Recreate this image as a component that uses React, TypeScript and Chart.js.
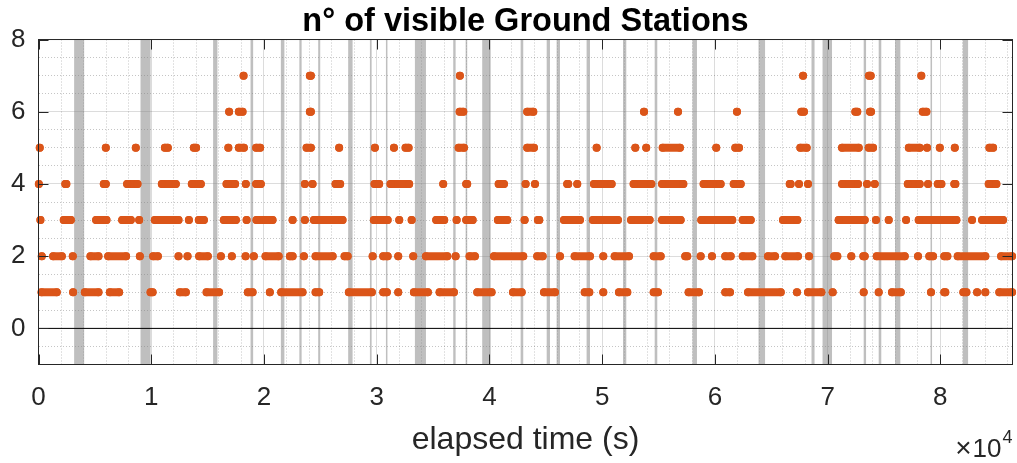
import React, { useEffect, useRef } from 'react';
import { Chart, registerables } from 'chart.js';

Chart.register(...registerables);

// ---------- text ----------
const TITLE = 'n° of visible Ground Stations';
const X_LABEL = 'elapsed time (s)';
const X_EXP_TIMES = '×';
const X_EXP_BASE = '10';
const X_EXP_POW = '4';

// ---------- axes ----------
const X_MIN = 0;
const X_MAX = 86400;
const Y_MIN = -1;
const Y_MAX = 8;
const X_MAJOR = [0, 10000, 20000, 30000, 40000, 50000, 60000, 70000, 80000];
const X_TICK_LABELS = ['0', '1', '2', '3', '4', '5', '6', '7', '8'];
const Y_MAJOR = [0, 2, 4, 6, 8];
const Y_TICK_LABELS = ['0', '2', '4', '6', '8'];
const X_MINOR_STEP = 2000;
const Y_MINOR_STEP = 0.5;

// ---------- grey vertical bands [start, end] (s) ----------
const bands: [number, number][] = [
  [3160, 4050], [9050, 9940], [15490, 15870], [18810, 19040], [21500, 21810],
  [23140, 23340], [24810, 24990], [27470, 27860], [29400, 29550], [30820, 30950],
  [33390, 34370], [36790, 37000], [37890, 38030], [39360, 40110], [42770, 43000],
  [45080, 45370], [45960, 46260], [48620, 48920], [51850, 52140], [54660, 54890],
  [58010, 58410], [63870, 64450], [68570, 68840], [69550, 70390], [73200, 73410],
  [74530, 74760], [75980, 76450], [79130, 79260], [81990, 82460],
];

// ---------- visibility runs per number of stations (single time or [start, end]) ----------
type Run = number | [number, number];

const level7: Run[] = [18190, [24070, 24160], 37380, 67820, [73670, 73820], 78310];

const level6: Run[] = [
  16910, [17770, 18100], [24070, 24160], [37360, 37680], [43350, 43890], 53710, 56730,
  61960, [67670, 67900], [72460, 72630], [73760, 73850], [78440, 78760],
];

const level5: Run[] = [
  110, 5970, 8630, [11210, 11470], [13780, 13980], 16840, [17770, 18220], [19310, 19660],
  [23780, 24160], 26670, 29840, 31530, [32560, 32830], [37270, 37740], [43350, 43950],
  49510, 52940, 53910, [55370, 56900], 60120, [61810, 62140], [67580, 68140],
  [71280, 72760], [73650, 74030], [77200, 78170], 78820, 79950, 81280, [84350, 84680],
];

const level4: Run[] = [
  30, [2380, 2470], [5790, 5970], [7860, 8780], [10940, 12180], [13600, 14400],
  [16680, 17440], 18390, [19310, 19720], 23630, 24310, [26350, 26760], [29810, 30220],
  [31230, 32880], 35900, [37940, 38030], [40820, 41290], 43210, 44040, [46900, 46990],
  47790, [49270, 50840], [52790, 54360], [55310, 57200], [59000, 60510], [61670, 62290],
  [66640, 66720], 67460, 68260, [71280, 72700], 73500, 74180, [77110, 78170], 78910,
  [79770, 80090], [81240, 81330], [84290, 84970],
];

const level3: Run[] = [
  170, [2240, 2870], [5110, 6030], [7420, 8190], 8930, [10320, 12420], 13340,
  [14220, 14670], [16440, 17510], 18460, [19340, 20760], 22540, 23630, [24430, 26970],
  [29750, 30970], 32000, 33100, [35280, 35990], 37090, [37940, 38510], [40750, 41580],
  43120, [44300, 44420], [46610, 48030], [49180, 51400], [52560, 54210], [55310, 56960],
  [58790, 61540], [62470, 63180], [66040, 67310], [70980, 73290], 74290, 75420, 76960,
  [78080, 81420], 82810, [83700, 85560],
];

const level2: Run[] = [
  290, [1300, 2070], 3040, [4610, 5320], [6180, 7770], 8990, [10170, 10590], 12420, 13220,
  [14250, 15020], 16180, 17150, 18370, 19100, [20140, 21300], [22300, 22540], 23540,
  [24580, 26090], [27150, 27420], 29640, [30580, 30970], 31910, 33240, [34370, 36260],
  37000, [38240, 38710], [40400, 43000], [44240, 44720], 46260, [47560, 48920], 50100,
  [51110, 52380], [54570, 55190], [57370, 57550], 58740, 59740, [60920, 61400],
  [62470, 63320], [64710, 65330], [66250, 67370], 68350, [70590, 70860], 72100,
  [73170, 73290], [74360, 76840], 78020, [79020, 79350], [80350, 80620], [81540, 83990],
  [85390, 86360],
];

const level1: Run[] = [
  [270, 1620], 3070, [4110, 5320], [6330, 7150], [9940, 10120], [12540, 13070],
  [14910, 16020], [18570, 18990], 20520, [21530, 23420], [24580, 24900], [27530, 29570],
  [30580, 30900], 31910, [33300, 34540], [35580, 36850], [38920, 40190], [42090, 42860],
  [44840, 45810], [48450, 48860], 50100, [51490, 52230], [54570, 54950], [57670, 58590],
  [60920, 61340], [62940, 65840], 67280, [68260, 69440], 70450, 73200, 74530,
  [75710, 76490], 79170, [80350, 80440], [82040, 82310], 83260, 83990, [85230, 86360],
];

const levels: [number, Run[]][] = [
  [7, level7], [6, level6], [5, level5], [4, level4], [3, level3], [2, level2], [1, level1],
];

const zeroLine = [{ x: X_MIN, y: 0 }, { x: X_MAX, y: 0 }];

// ---------- styles ----------
const W = 1017;
const H = 463;
const FONT = "'Liberation Sans', Arial, Helvetica, sans-serif";
const AXIS = '#262626';
const ORANGE = '#DB5519';
const MAJOR_GRID = 'rgba(38,38,38,0.16)';
const MINOR_GRID = 'rgba(30,30,30,0.26)';
const BAND = 'rgba(128,128,128,0.5)';

function toPoints(runs: Run[], level: number) {
  const pts: { x: number; y: number | null }[] = [];
  for (const r of runs) {
    const a = Array.isArray(r) ? r[0] : r;
    const b = Array.isArray(r) ? r[1] : r;
    pts.push({ x: a, y: level });
    if (b !== a) pts.push({ x: b, y: level });
    pts.push({ x: b, y: null });
  }
  return pts;
}

function gridValues(min: number, max: number, step: number) {
  const out: number[] = [];
  const n = Math.round((max - min) / step);
  for (let i = 0; i <= n; i++) out.push(min + i * step);
  if (out[out.length - 1] < max) out.push(max);
  return out;
}

const decorPlugin = {
  id: 'decor',
  beforeDatasetsDraw(chart: any) {
    const { ctx, chartArea: a, scales } = chart;
    const x = scales.x;
    ctx.save();
    ctx.fillStyle = BAND;
    for (const [s, e] of bands) {
      const x0 = x.getPixelForValue(s);
      const x1 = x.getPixelForValue(e);
      ctx.fillRect(x0, a.top, Math.max(1.5, x1 - x0), a.bottom - a.top);
    }
    ctx.restore();
  },
  afterDatasetsDraw(chart: any) {
    const { ctx, chartArea: a, scales } = chart;
    const x = scales.x;
    const y = scales.y;
    const TL = 10;
    ctx.save();
    ctx.strokeStyle = AXIS;
    ctx.lineWidth = 1;
    ctx.beginPath();
    for (const v of X_MAJOR) {
      const px = Math.round(x.getPixelForValue(v)) + 0.5;
      ctx.moveTo(px, a.bottom);
      ctx.lineTo(px, a.bottom - TL);
      ctx.moveTo(px, a.top);
      ctx.lineTo(px, a.top + TL);
    }
    for (const v of Y_MAJOR) {
      const py = Math.round(y.getPixelForValue(v)) + 0.5;
      ctx.moveTo(a.left, py);
      ctx.lineTo(a.left + TL, py);
      ctx.moveTo(a.right, py);
      ctx.lineTo(a.right - TL, py);
    }
    ctx.stroke();
    ctx.strokeRect(a.left, a.top, a.right - a.left, a.bottom - a.top);
    ctx.restore();
  },
  afterDraw(chart: any) {
    const { ctx, chartArea: a } = chart;
    ctx.save();
    ctx.fillStyle = AXIS;
    ctx.textBaseline = 'alphabetic';
    ctx.textAlign = 'right';
    ctx.font = `18px ${FONT}`;
    const wPow = ctx.measureText(X_EXP_POW).width;
    ctx.fillText(X_EXP_POW, a.right, 443);
    ctx.font = `26px ${FONT}`;
    const xBaseRight = a.right - wPow - 1;
    const wBase = ctx.measureText(X_EXP_BASE).width;
    ctx.fillText(X_EXP_BASE, xBaseRight, 456.5);
    ctx.font = `28px ${FONT}`;
    ctx.fillText(X_EXP_TIMES, xBaseRight - wBase - 1, 456.5);
    ctx.restore();
  },
};

export default function App() {
  const ref = useRef<HTMLCanvasElement>(null);

  useEffect(() => {
    if (!ref.current) return;
    const xGrid = gridValues(X_MIN, X_MAX, X_MINOR_STEP);
    const yGrid = gridValues(Y_MIN, Y_MAX, Y_MINOR_STEP);

    const datasets: any[] = levels.map(([lvl, runs]) => ({
      label: `${lvl}`,
      data: toPoints(runs, lvl),
      showLine: true,
      spanGaps: false,
      borderColor: ORANGE,
      backgroundColor: ORANGE,
      pointBackgroundColor: ORANGE,
      borderWidth: 8,
      borderCapStyle: 'round',
      borderJoinStyle: 'round',
      pointRadius: 4,
      pointHoverRadius: 4,
      pointBorderWidth: 0,
      tension: 0,
      clip: false,
    }));
    datasets.push({
      label: 'zero',
      data: zeroLine,
      showLine: true,
      borderColor: '#000000',
      borderWidth: 1,
      pointRadius: 0,
      pointHoverRadius: 0,
      clip: false,
    });

    const isMajorX = (v: number) => X_MAJOR.indexOf(v) >= 0;
    const isMajorY = (v: number) => Y_MAJOR.indexOf(v) >= 0;

    const chart = new Chart(ref.current, {
      type: 'scatter',
      data: { datasets },
      plugins: [decorPlugin],
      options: {
        responsive: false,
        animation: false,
        events: [],
        layout: { padding: { left: 0, right: 4.5, top: 0, bottom: 0 } },
        plugins: {
          legend: { display: false },
          tooltip: { enabled: false },
          title: {
            display: true,
            text: TITLE,
            color: '#000000',
            fullSize: false,
            align: 'center',
            font: { family: FONT, size: 32.5, weight: 'bold', lineHeight: 1.05 },
            padding: { top: 4.5, bottom: 0.9 },
          },
        },
        scales: {
          x: {
            type: 'linear',
            min: X_MIN,
            max: X_MAX,
            afterBuildTicks: (s: any) => {
              s.ticks = xGrid.map((v) => ({ value: v }));
            },
            afterFit: (s: any) => {
              s.height = 98.5;
              s.paddingLeft = 0;
              s.paddingRight = 0;
            },
            ticks: {
              autoSkip: false,
              maxRotation: 0,
              minRotation: 0,
              padding: 18,
              color: AXIS,
              font: { family: FONT, size: 26 },
              callback: (v: any) => {
                const i = X_MAJOR.indexOf(Number(v));
                return i >= 0 ? X_TICK_LABELS[i] : '';
              },
            },
            grid: {
              drawTicks: false,
              lineWidth: 1,
              color: (c: any) => (c.tick && isMajorX(c.tick.value) ? MAJOR_GRID : MINOR_GRID),
            },
            border: {
              display: false,
              dash: (c: any) => (c.tick && isMajorX(c.tick.value) ? [] : [1, 2]),
            },
            title: {
              display: true,
              text: X_LABEL,
              color: AXIS,
              font: { family: FONT, size: 32 },
              padding: { top: 0, bottom: 3.6 },
            },
          },
          y: {
            type: 'linear',
            min: Y_MIN,
            max: Y_MAX,
            afterBuildTicks: (s: any) => {
              s.ticks = yGrid.map((v) => ({ value: v }));
            },
            afterFit: (s: any) => {
              s.width = 38.5;
              s.paddingTop = 0;
              s.paddingBottom = 0;
            },
            ticks: {
              autoSkip: false,
              padding: 13,
              color: AXIS,
              font: { family: FONT, size: 26 },
              callback: (v: any) => {
                const i = Y_MAJOR.indexOf(Number(v));
                return i >= 0 ? Y_TICK_LABELS[i] : '';
              },
            },
            grid: {
              drawTicks: false,
              lineWidth: 1,
              color: (c: any) => (c.tick && isMajorY(c.tick.value) ? MAJOR_GRID : MINOR_GRID),
            },
            border: {
              display: false,
              dash: (c: any) => (c.tick && isMajorY(c.tick.value) ? [] : [1, 2]),
            },
          },
        },
      } as any,
    });

    return () => chart.destroy();
  }, []);

  return (
    <div style={{ position: 'fixed', left: 0, top: 0, width: W, height: H, background: '#ffffff' }}>
      <canvas ref={ref} width={W} height={H} style={{ display: 'block', width: W, height: H }} />
    </div>
  );
}
